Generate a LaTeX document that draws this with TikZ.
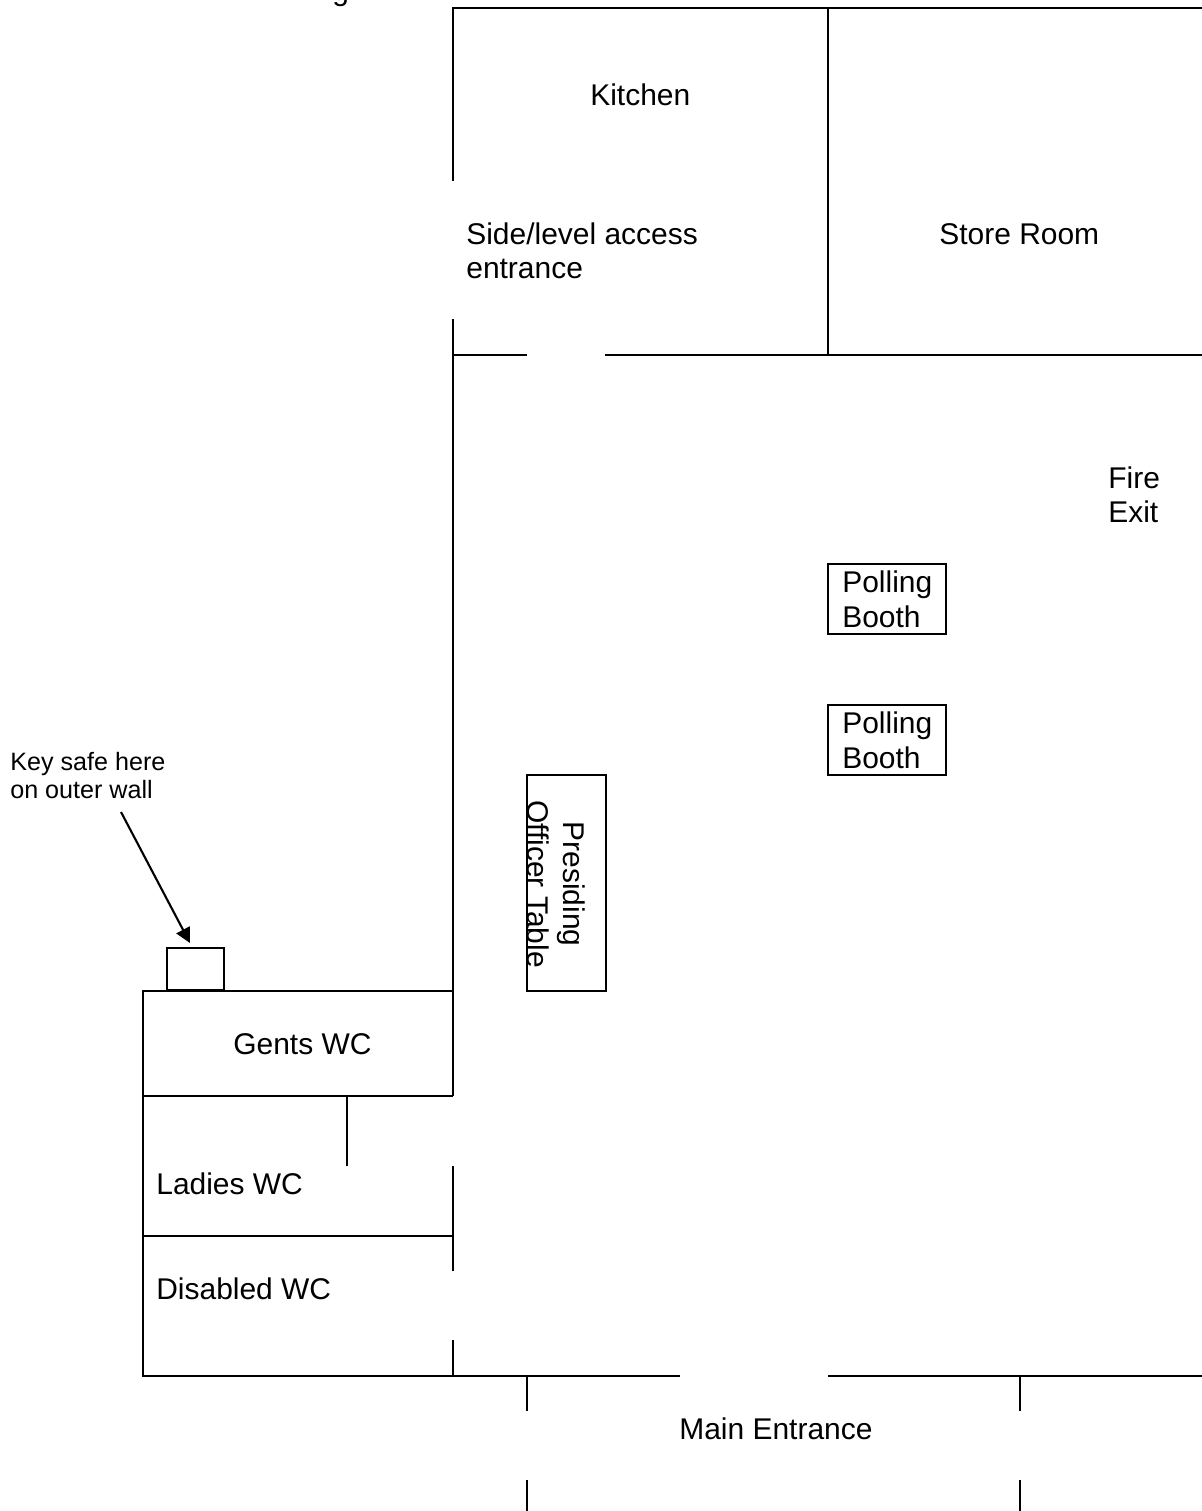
\documentclass[tikz,border=0pt]{standalone}
\usepackage{fontspec}
\setmainfont{Liberation Sans}
\usetikzlibrary{arrows.meta}
\tikzset{>={Triangle[length=8.5pt,width=8.5pt]}}
\tikzset{wall/.style = {line width=1.2pt}}
\tikzset{room/.style = {font=\fontsize{17.05}{19.6}\selectfont,align=left,inner sep=0pt,anchor=west}}
\tikzset{note/.style = {font=\fontsize{14.3}{16}\selectfont,align=left,inner sep=0pt,anchor=west}}

\begin{document}
\begin{tikzpicture}[x=0.02cm,y=-0.02cm]
                    \useasboundingbox (0,0) rectangle (1202,1511);

                    \node[room] (heading) at (332,-4) {g};
                    \node[room] (kitchen) at (590,95) {Kitchen};
                    \node[room] (store) at (939,234) {Store Room};
                    \node[room] (side) at (466,251) {Side/level access\\entrance};
                    \node[room] (fire) at (1108,494.5) {Fire\\Exit};
                    \node[room] (gents) at (233,1044) {Gents WC};
                    \node[room] (ladies) at (156,1184) {Ladies WC};
                    \node[room] (disabled) at (156,1289) {Disabled WC};
                    \node[room] (main) at (679,1429) {Main Entrance};
                    \node[note] (key) at (10,775.7) {Key safe here\\on outer wall};

                    \node[draw,wall,minimum width=2.36cm,minimum height=1.4cm,inner sep=0pt] (booth1) at (887,599) {};
                    \node[draw,wall,minimum width=2.36cm,minimum height=1.4cm,inner sep=0pt] (booth2) at (887,740) {};
                    \node[room] (booth1text) at (842,599.5) {Polling\\Booth};
                    \node[room] (booth2text) at (842,740.5) {Polling\\Booth};
                    \node[draw,wall,minimum width=1.58cm,minimum height=4.32cm,inner sep=0pt] (table) at (566.5,883) {};
                    \node[room,anchor=center,align=center,rotate=-90] (tabletext) at (556,884) {Presiding\\[0.8pt]Of{}f{}icer T{}able};
                    \node[draw,wall,minimum width=1.14cm,minimum height=0.84cm,inner sep=0pt] (safe) at (195.5,969) {};

                    \coordinate (keystart) at (121,812);
                    \draw[wall,->] (keystart) -- (190,943);

                    % kitchen and store
                    \draw[wall] (453,181) -- (453,8) -- (1202,8);
                    \draw[wall] (828,8) -- (828,355);
                    \draw[wall] (453,355) -- (527,355);
                    \draw[wall] (605,355) -- (1202,355);
                    \draw[wall] (453,319) -- (453,1096);

                    % toilets
                    \draw[wall] (453,991) -- (143,991) -- (143,1376) -- (680,1376);
                    \draw[wall] (143,1096) -- (453,1096);
                    \draw[wall] (347,1096) -- (347,1166);
                    \draw[wall] (453,1166) -- (453,1271);
                    \draw[wall] (143,1236) -- (453,1236);
                    \draw[wall] (453,1340) -- (453,1376);

                    % main entrance
                    \draw[wall] (828,1376) -- (1202,1376);
                    \draw[wall] (527,1376) -- (527,1411);
                    \draw[wall] (527,1480) -- (527,1511);
                    \draw[wall] (1020,1376) -- (1020,1411);
                    \draw[wall] (1020,1480) -- (1020,1511);
                \end{tikzpicture}
\end{document}
